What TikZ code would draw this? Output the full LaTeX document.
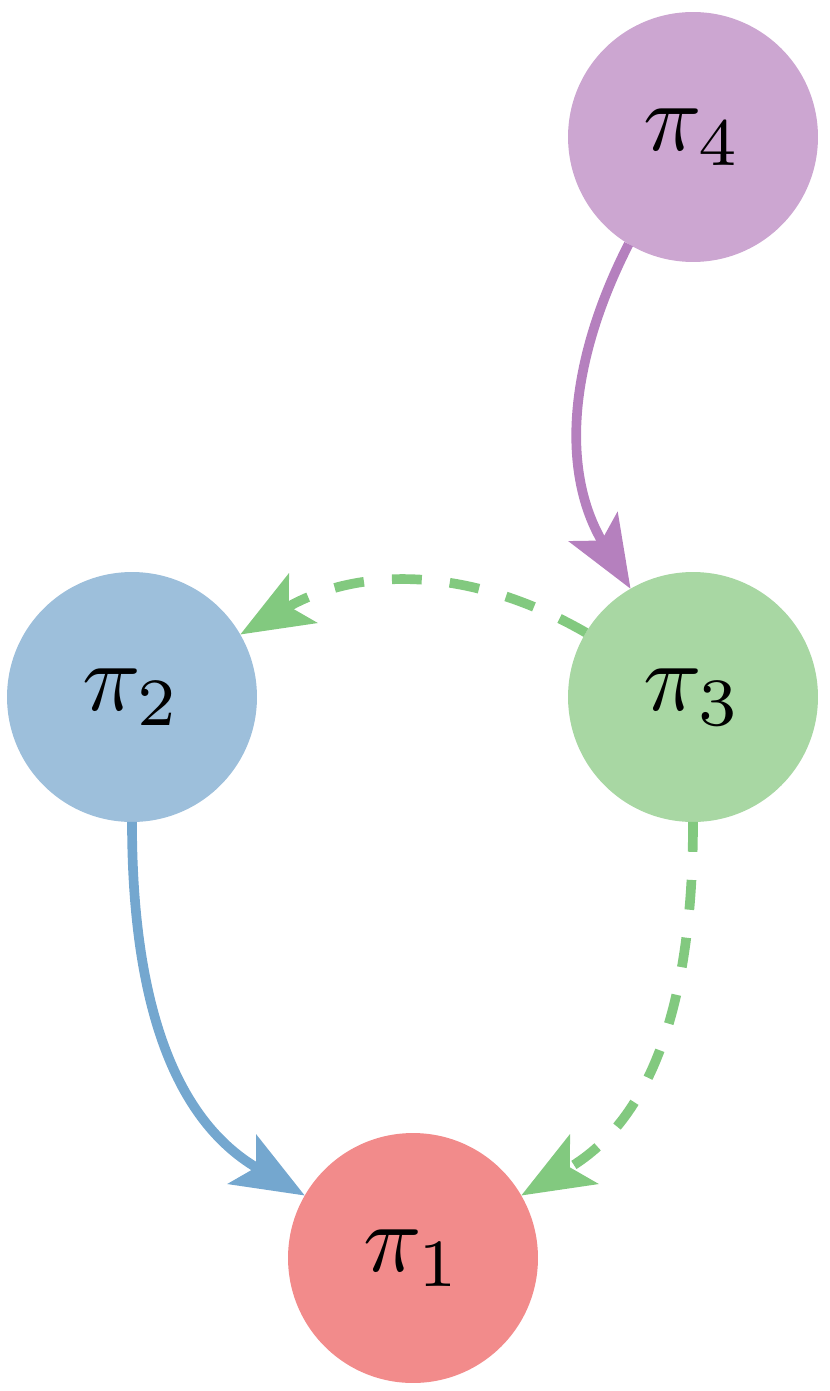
\documentclass[tikz,border=0pt]{standalone}
\usepackage{graphicx}
\usetikzlibrary{arrows.meta}
\definecolor{cfour}{HTML}{CCA6D1}
\definecolor{efour}{HTML}{B580BE}
\definecolor{ctwo}{HTML}{9DBFDB}
\definecolor{etwo}{HTML}{74A7CF}
\definecolor{cthree}{HTML}{A8D7A3}
\definecolor{ethree}{HTML}{82C97F}
\definecolor{cone}{HTML}{F28B8B}
\newcommand{\bigpi}[1]{\scalebox{5.5}{$\pi_{#1}$}}
\begin{document}
\begin{tikzpicture}[x=0.02cm,y=-0.02cm,
  pnode/.style={circle,minimum size=5cm,inner sep=0pt,outer sep=0pt},
  edge/.style={line width=5.5pt,-{Stealth[length=41pt,width=32pt,inset=9pt]}},
  dashedge/.style={edge,dash pattern=on 17pt off 16pt}]
\useasboundingbox (0,0) rectangle (830,1391);
\node[pnode,fill=cfour] (p4) at (693,137) {\bigpi{4}};
\node[pnode,fill=ctwo] (p2) at (132,697) {\bigpi{2}};
\node[pnode,fill=cthree] (p3) at (693,697) {\bigpi{3}};
\node[pnode,fill=cone] (p1) at (413,1258) {\bigpi{1}};
\draw[edge,efour] (p4.239) to[out=243,in=121] (p3.120);
\draw[dashedge,ethree] (p3.149) to[out=150,in=30] (p2.30);
\draw[dashedge,ethree] (p3.270) to[out=270,in=30] (p1.30);
\draw[edge,etwo] (p2.270) to[out=270,in=150] (p1.150);
\end{tikzpicture}
\end{document}
